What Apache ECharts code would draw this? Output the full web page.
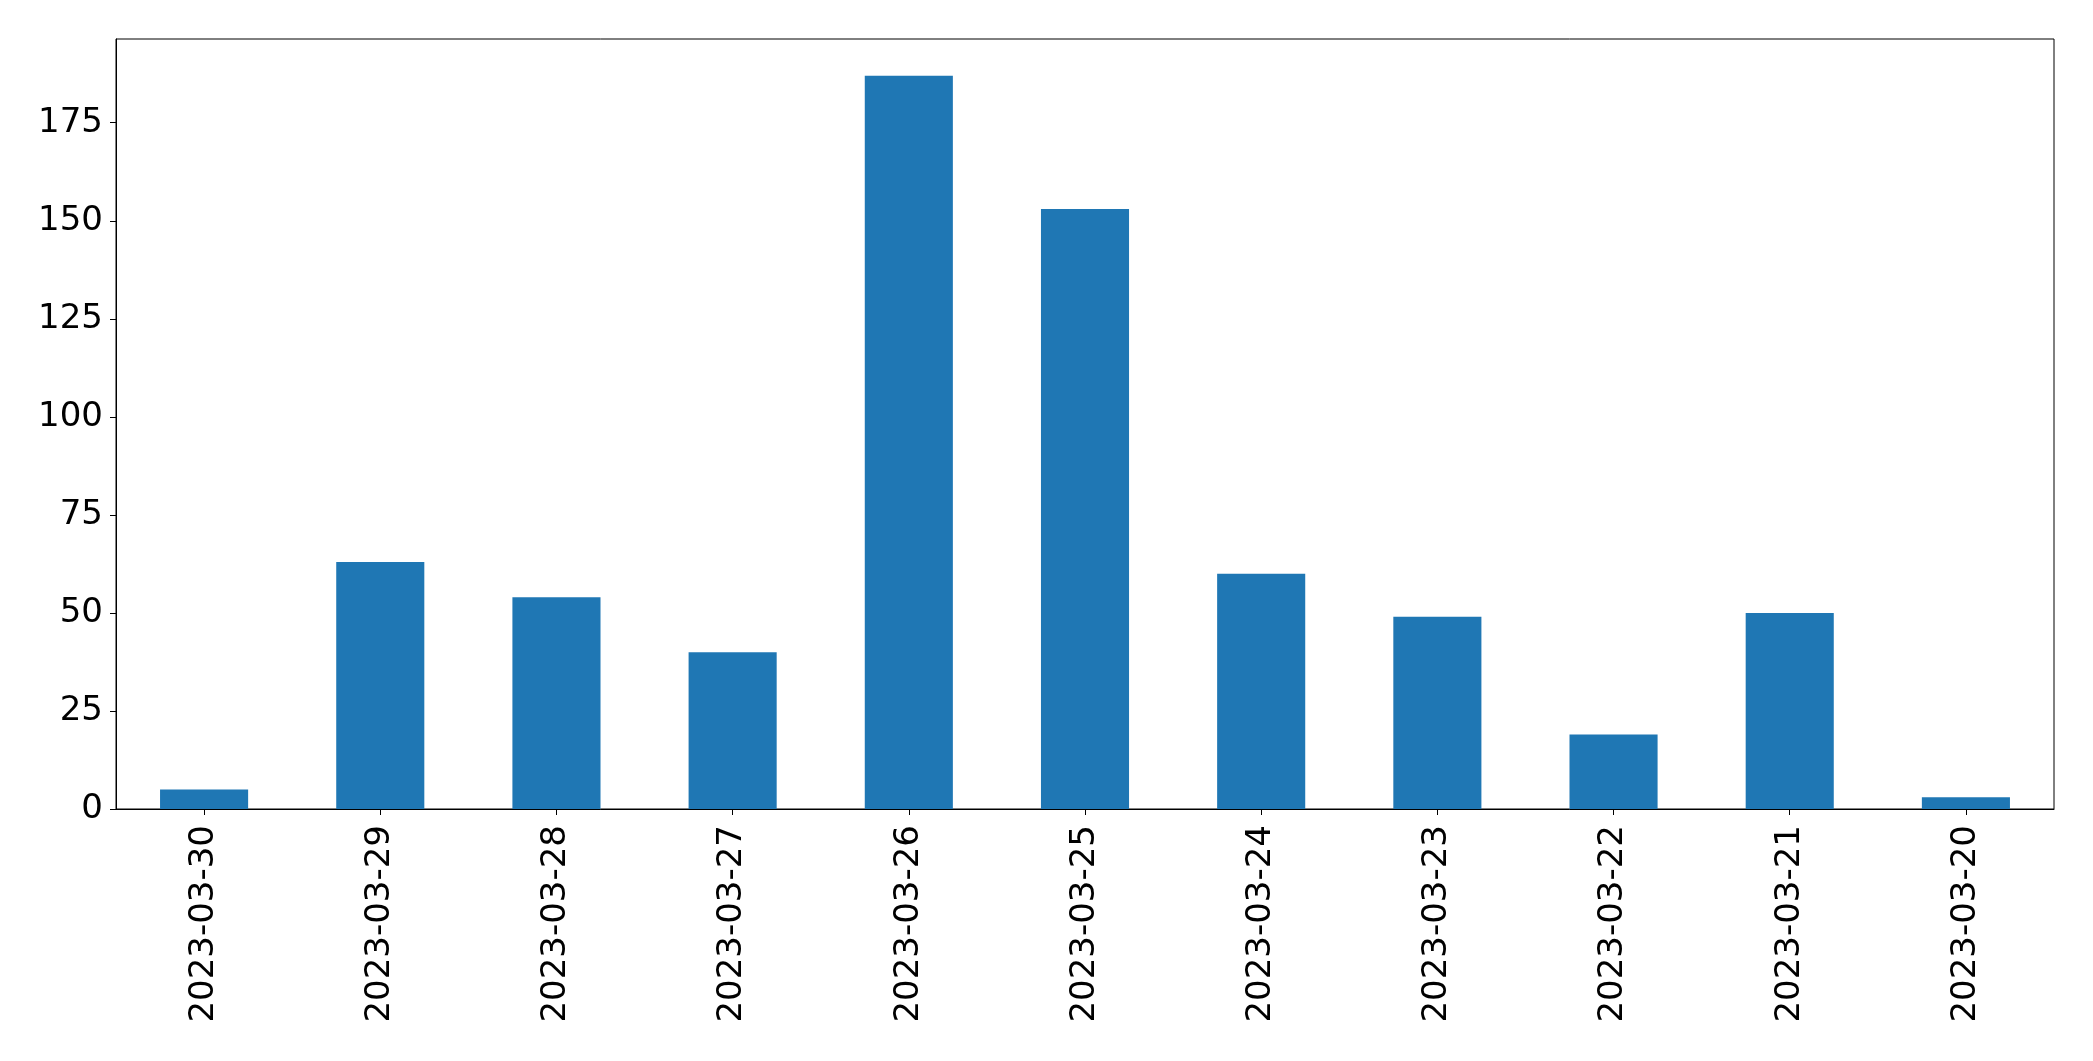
<!DOCTYPE html>
<html>
<head>
<meta charset="utf-8">
<script src="https://cdn.jsdelivr.net/npm/echarts@6/dist/echarts.min.js"></script>
<style>
html,body{margin:0;padding:0;background:#fff;}
#chart{width:2093px;height:1061px;}
</style>
</head>
<body>
<div id="chart"></div>
<script>
const categories = ["2023-03-30","2023-03-29","2023-03-28","2023-03-27","2023-03-26","2023-03-25","2023-03-24","2023-03-23","2023-03-22","2023-03-21","2023-03-20"];
const values = [5, 63, 54, 40, 187, 153, 60, 49, 19, 50, 3];
const yTicks = [0, 25, 50, 75, 100, 125, 150, 175];

const yMax = Math.max(...values) * 1.05;
const chart = echarts.init(document.getElementById('chart'), null, {renderer: 'canvas'});
chart.setOption({
  animation: false,
  backgroundColor: '#ffffff',
  textStyle: {fontFamily: 'DejaVu Sans'},
  grid: {
    left: 116, right: 39, top: 39, bottom: 252,
    show: true, borderColor: '#000', borderWidth: 1, backgroundColor: 'transparent'
  },
  xAxis: {
    type: 'category',
    data: categories,
    boundaryGap: true,
    axisLine: {show: true, lineStyle: {color: '#000', width: 1}},
    axisTick: {show: true, alignWithLabel: true, length: 6, lineStyle: {color: '#000', width: 1}},
    axisLabel: {rotate: 90, fontSize: 34, color: '#000', margin: 16, fontFamily: 'DejaVu Sans', interval: 0},
    splitLine: {show: false}
  },
  yAxis: {
    type: 'value',
    min: 0,
    max: yMax,
    interval: 25,
    axisLine: {show: true, lineStyle: {color: '#000', width: 1}},
    axisTick: {show: true, length: 6, lineStyle: {color: '#000', width: 1}, customValues: yTicks},
    axisLabel: {fontSize: 34, color: '#000', margin: 13, fontFamily: 'DejaVu Sans', customValues: yTicks},
    splitLine: {show: false}
  },
  series: [{
    type: 'bar',
    data: values,
    barWidth: '50%',
    itemStyle: {color: '#1f77b4'}
  }]
});
</script>
</body>
</html>
